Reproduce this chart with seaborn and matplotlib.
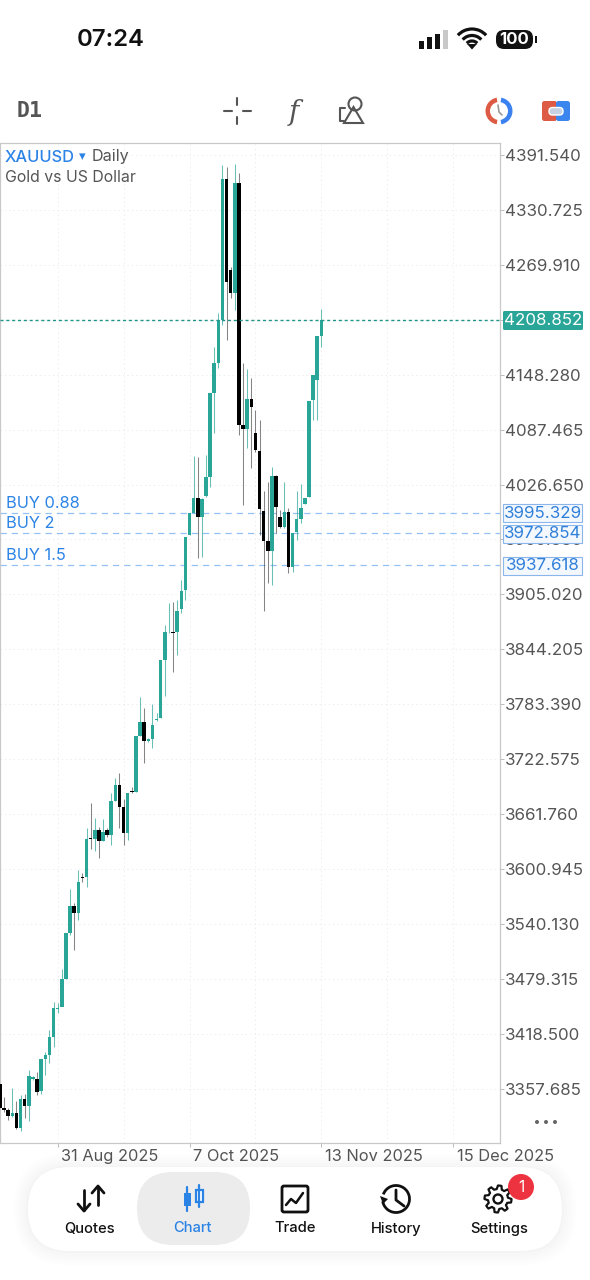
import numpy as np
import pandas as pd
import matplotlib
matplotlib.use("Agg")
import matplotlib.pyplot as plt
import matplotlib.transforms as mtrans
from matplotlib.patches import Circle, FancyBboxPatch, Polygon, Rectangle, Wedge, Arc
import seaborn as sns

# daily candles
opens = [3362.7, 3336.1, 3334.6, 3327.3, 3330.6, 3314.0, 3346.8, 3338.7, 3368.2, 3368.6,
         3355.3, 3390.7, 3395.5, 3415.1, 3446.6, 3447.9, 3479.1, 3529.9, 3560.1, 3552.7,
         3592.2, 3591.8, 3635.1, 3634.3, 3644.6, 3631.7, 3644.3, 3638.7, 3676.7, 3694.1,
         3669.4, 3641.3, 3687.8, 3686.7, 3748.0, 3763.8, 3742.8, 3744.9, 3765.5, 3768.3,
         3832.9, 3862.9, 3863.5, 3863.1, 3888.6, 3910.0, 3970.3, 3995.2, 4011.5, 3990.8,
         4014.4, 4035.4, 4128.4, 4161.6, 4208.9, 4365.0, 4264.2, 4238.4, 4360.5, 4092.6,
         4087.9, 4121.4, 4083.4, 4064.1, 3997.8, 3964.2, 3953.1, 4036.5, 3990.4, 3980.0,
         3996.6, 3935.0, 3973.8, 3988.5, 4005.2, 4012.6, 4120.3, 4142.4, 4191.1]
highs = [3362.7, 3348.3, 3336.5, 3358.3, 3344.6, 3350.9, 3352.0, 3378.5, 3371.9, 3376.1,
         3390.7, 3398.8, 3422.8, 3454.2, 3452.4, 3489.8, 3529.9, 3578.6, 3563.8, 3600.0,
         3596.3, 3646.1, 3673.8, 3657.2, 3647.9, 3656.1, 3646.1, 3685.5, 3701.8, 3706.9,
         3678.6, 3684.9, 3692.2, 3748.0, 3791.2, 3779.0, 3746.0, 3783.8, 3773.7, 3832.9,
         3871.2, 3895.2, 3897.0, 3898.9, 3921.0, 3969.0, 3995.0, 4058.3, 4057.5, 4012.0,
         4059.4, 4128.4, 4179.3, 4216.9, 4380.5, 4378.6, 4267.9, 4381.6, 4371.9, 4161.0,
         4154.3, 4144.7, 4109.2, 4098.1, 4019.6, 4029.9, 4045.8, 4037.0, 3998.5, 4029.9,
         4000.7, 3973.4, 4019.1, 4027.3, 4011.5, 4119.5, 4148.0, 4191.1, 4220.7]
lows = [3336.1, 3332.4, 3323.2, 3326.5, 3312.9, 3311.4, 3325.1, 3322.4, 3367.5, 3350.9,
        3351.6, 3373.0, 3386.0, 3404.4, 3442.0, 3470.6, 3479.1, 3528.0, 3511.4, 3544.6,
        3587.0, 3580.8, 3622.8, 3620.5, 3612.9, 3631.7, 3636.9, 3627.6, 3676.4, 3646.1,
        3627.6, 3633.2, 3684.9, 3686.7, 3748.0, 3718.1, 3742.0, 3734.8, 3765.1, 3768.3,
        3792.6, 3862.4, 3819.5, 3838.0, 3884.5, 3898.9, 3970.3, 3994.8, 3945.4, 3946.8,
        4013.3, 4024.4, 4084.0, 4155.7, 4203.3, 4186.7, 4233.1, 4220.0, 4081.6, 4004.1,
        4066.8, 4044.7, 4063.0, 3970.8, 3887.0, 3917.4, 3915.5, 3972.7, 3978.2, 3978.6,
        3929.1, 3930.2, 3965.3, 3984.1, 4005.2, 4012.6, 4098.1, 4098.1, 4179.3]
closes = [3336.1, 3334.3, 3327.6, 3330.6, 3314.0, 3346.8, 3338.7, 3371.9, 3370.4, 3354.6,
          3390.7, 3395.2, 3414.7, 3447.2, 3447.7, 3478.8, 3529.9, 3560.1, 3552.7, 3586.4,
          3591.3, 3634.7, 3634.0, 3644.6, 3631.7, 3642.0, 3638.7, 3676.7, 3694.1, 3669.4,
          3640.6, 3684.9, 3686.0, 3748.0, 3763.8, 3742.8, 3744.7, 3760.5, 3767.0, 3832.9,
          3863.6, 3863.5, 3862.8, 3887.0, 3909.2, 3969.0, 3995.0, 4011.5, 3990.4, 4010.7,
          4035.1, 4128.4, 4161.6, 4208.9, 4365.0, 4251.3, 4238.4, 4360.5, 4092.6, 4087.9,
          4121.4, 4112.9, 4064.9, 3999.3, 3964.5, 3953.1, 4036.2, 4002.2, 3979.3, 3996.6,
          3935.0, 3973.4, 3988.5, 4000.4, 4011.5, 4119.5, 4148.0, 4191.1, 4208.85]

price_ticks = [4391.540, 4330.725, 4269.910, 4209.095, 4148.280, 4087.465, 4026.650, 3965.835,
               3905.020, 3844.205, 3783.390, 3722.575, 3661.760, 3600.945, 3540.130, 3479.315,
               3418.500, 3357.685]
date_positions = [14, 46, 78, 110]
date_labels = ["31 Aug 2025", "7 Oct 2025", "13 Nov 2025", "15 Dec 2025"]
grid_positions = [30, 62, 94]
last_price = 4208.852
buy_names = ["BUY 0.88", "BUY 2", "BUY 1.5"]
buy_prices = [3995.329, 3972.854, 3937.618]
tabs = ["Quotes", "Chart", "Trade", "History", "Settings"]

TEAL = "#2aa698"
BLUE = "#2b83e6"
GRAY = "#555555"

sns.set_theme(style="white")
plt.rcParams["font.family"] = ["Inter", "DejaVu Sans"]

df = pd.DataFrame({"bar": range(len(opens)), "open": opens, "high": highs, "low": lows, "close": closes})
df["base"] = df[["open", "close"]].min(axis=1)
df["body"] = (df["close"] - df["open"]).abs()
df["up"] = df["close"] >= df["open"]

fig = plt.figure(figsize=(5.9, 12.8), dpi=100, facecolor="white")
ax = fig.add_axes([0, 1 - 1143 / 1280, 500 / 590, 1000 / 1280])

# wicks first, bodies on top
up = df[df["up"]]
down = df[~df["up"]]
ax.vlines(up["bar"], up["low"], up["high"], color=TEAL, linewidth=0.75, alpha=0.7, zorder=2)
ax.vlines(down["bar"], down["low"], down["high"], color="#222222", linewidth=0.75, alpha=0.55, zorder=2)
sns.barplot(data=up, x="bar", y="body", bottom=up["base"].values, native_scale=True, orient="x",
            errorbar=None, color=TEAL, saturation=1, width=0.86, linewidth=0, ax=ax, zorder=3)
sns.barplot(data=down, x="bar", y="body", bottom=down["base"].values, native_scale=True, orient="x",
            errorbar=None, color="black", saturation=1, width=0.86, linewidth=0, ax=ax, zorder=3)

ax.axhline(last_price, color="#1f9488", linewidth=1.0, linestyle=(0, (2.2, 2.0)), zorder=4)
for p in buy_prices:
    ax.axhline(p, color="#93c0f6", linewidth=0.9, linestyle=(0, (5, 4)), zorder=1)

ax.set_xlim(0, 500 / 4.12)
ax.set_ylim(3297.7, 4404.8)
ax.set_xlabel("")
ax.set_ylabel("")

ax.yaxis.tick_right()
ax.set_yticks(price_ticks)
ax.set_yticklabels([f"{p:.3f}" for p in price_ticks], fontsize=12.2, color=GRAY)
ax.set_xticks(date_positions)
ax.set_xticklabels(date_labels, fontsize=11.8, color=GRAY, ha="left")
ax.set_xticks(grid_positions, minor=True)
ax.tick_params(axis="y", length=3, width=0.7, color="#bbbbbb", pad=0.6, right=True)
ax.tick_params(axis="x", which="major", length=3, width=0.7, color="#bbbbbb", pad=1.5, bottom=True)
ax.tick_params(axis="x", which="minor", length=0)
shift = mtrans.ScaledTranslation(2.6 / 72, 0, fig.dpi_scale_trans)
for lab in ax.get_xticklabels():
    lab.set_transform(lab.get_transform() + shift)

ax.grid(True, which="both", color="#eeeeee", linewidth=0.7, linestyle=(0, (1.5, 3)))
ax.set_axisbelow(True)
for s in ax.spines.values():
    s.set_color("#c8c8c8")
    s.set_linewidth(0.9)

# everything around the chart is laid out in screen pixels
ui = fig.add_axes([0, 0, 1, 1], zorder=5)
ui.set_xlim(0, 590)
ui.set_ylim(1280, 0)
ui.axis("off")
ui.patch.set_alpha(0)


def line(xs, ys, color="#111111", lw=1.5, **kw):
    ui.plot(xs, ys, color=color, linewidth=lw, solid_capstyle=kw.pop("cap", "round"), **kw)


def box(x0, y0, x1, y1, r, **kw):
    ui.add_patch(FancyBboxPatch((x0 + r, y0 + r), x1 - x0 - 2 * r, y1 - y0 - 2 * r,
                                boxstyle=f"round,pad={r}", **kw))


# status bar
ui.text(111, 40.5, "07:24", fontsize=17.2, fontweight="semibold", color="#111111", ha="center", va="center")
for i, (x, h) in enumerate(zip([419, 427, 435, 443], [8, 12, 15, 19])):
    ui.add_patch(Rectangle((x, 49 - h), 4.5, h, color="#111111" if i < 3 else "#c8c8c8", linewidth=0))
for r, w in [(19, 3.2), (12.5, 3.2), (7, 3.2)]:
    ui.add_patch(Arc((472, 48), 2 * r, 2 * r, theta1=222, theta2=318, color="#111111", linewidth=w * 0.72))
ui.add_patch(Polygon([[467, 44], [477, 44], [472, 49.5]], color="#111111", linewidth=0))
box(496, 30, 533, 49, 8, facecolor="#111111", edgecolor="none")
ui.add_patch(Rectangle((534.5, 36), 2, 7, color="#111111", linewidth=0))
ui.text(514.5, 39.5, "100", fontsize=12, fontweight="bold", color="white", ha="center", va="center")

# toolbar
ui.text(30, 111, "D1", fontsize=15.5, fontweight="bold", color=GRAY, ha="center", va="center",
        family=["DejaVu Sans Mono"])
line([224, 232], [111, 111], GRAY, 1.5)
line([243, 251], [111, 111], GRAY, 1.5)
line([237, 237], [98, 105], GRAY, 1.5)
line([237, 237], [117, 124], GRAY, 1.5)
ui.text(294, 112, "f", fontsize=20, style="italic", color=GRAY, ha="center", va="center", family=["DejaVu Serif"])
ui.add_patch(Circle((355, 104), 6.5, fill=False, edgecolor=GRAY, linewidth=1.5))
ui.add_patch(Polygon([[344, 123], [363, 123], [353.5, 107]], fill=False, edgecolor=GRAY, linewidth=1.5))
line([345, 340, 340, 344], [108, 108, 121, 121], GRAY, 1.5)
ui.add_patch(Wedge((499, 111), 13.5, 100, 260, width=4.5, color="#dd5a44", linewidth=0))
ui.add_patch(Wedge((499, 111), 13.5, 280, 80, width=4.5, color="#3b82f0", linewidth=0))
line([498, 499, 502], [105, 112, 115], "#9a9a9a", 1.2)
box(542, 101, 557, 121, 2.5, facecolor="#dd5a44", edgecolor="none")
box(556, 101, 570, 121, 2.5, facecolor="#3b86ee", edgecolor="none")
box(549, 107.5, 563, 115, 3.5, facecolor="#c6d2e2", edgecolor="white", linewidth=1)

# symbol header
ui.text(5, 157, "XAUUSD", fontsize=11.8, fontweight="medium", color=BLUE, va="center")
ui.text(82, 157, "▾", fontsize=9.5, color=BLUE, ha="center", va="center")
ui.text(92, 157, "Daily", fontsize=11.6, color=GRAY, va="center")
ui.text(5, 177, "Gold vs US Dollar", fontsize=11.4, color=GRAY, va="center")

# order labels and price tags
for name, y in zip(buy_names, [503.5, 523.5, 555.5]):
    ui.text(6, y, name, fontsize=11.8, color=BLUE, va="center")
box(503, 311, 583, 330, 1.5, facecolor=TEAL, edgecolor="none")
ui.text(543, 320.5, f"{last_price:.3f}", fontsize=12.2, color="white", ha="center", va="center")
for p, y0, y1 in zip(buy_prices, [504, 524.5, 557], [522, 543, 575]):
    ui.add_patch(Rectangle((503, y0), 79, y1 - y0, facecolor="#f3f8ff", edgecolor="#8ab6ec", linewidth=0.8))
    ui.text(543, (y0 + y1) / 2, f"{p:.3f}", fontsize=12.2, color="#2f7fd9", ha="center", va="center")

for x in [537, 546, 555]:
    ui.add_patch(Circle((x, 1122), 2, color="#666666", linewidth=0))

# bottom tab bar, soft shadow then the pill
for grow, alpha in [(14, 0.006), (11, 0.007), (8, 0.008), (5, 0.009), (2, 0.01)]:
    box(28 - grow, 1168 - grow, 562 + grow, 1251 + grow, 41 + grow, facecolor="black", edgecolor="none", alpha=alpha)
box(28, 1167, 562, 1251, 42, facecolor="white", edgecolor="none")
box(137, 1172, 250, 1245, 36, facecolor="#ececec", edgecolor="none")
for name, x in zip(tabs, [90, 192.5, 295, 396, 499]):
    ui.text(x, 1228.5, name, fontsize=10.6, fontweight="medium", color=BLUE if name == "Chart" else "#111111",
            ha="center", va="center")

# quotes icon
line([84, 84], [1190, 1210], lw=2)
line([78, 84, 90], [1204, 1211, 1204], lw=2)
line([98, 98], [1187, 1205], lw=2)
line([92, 98, 104], [1193, 1186, 1193], lw=2)
# chart icon
line([187, 187], [1187, 1211], BLUE, 1.6)
line([199, 199], [1185, 1207], BLUE, 1.6)
ui.add_patch(Rectangle((183.5, 1193), 7, 13, color=BLUE, linewidth=0))
ui.add_patch(Rectangle((195.5, 1190), 7, 12, facecolor="white", edgecolor=BLUE, linewidth=1.6))
# trade icon
box(282, 1186, 308, 1212, 2, facecolor="none", edgecolor="#111111", linewidth=2)
line([286, 291, 296, 303], [1205, 1199, 1203, 1193], lw=1.8)
# history icon
ui.add_patch(Arc((396, 1199), 27, 27, theta1=0, theta2=330, angle=-160, color="#111111", linewidth=2))
ui.add_patch(Polygon([[380, 1196], [388, 1199], [383, 1204]], color="#111111", linewidth=0))
line([396, 396, 404], [1190, 1200, 1206], lw=2)
# settings icon
ang = np.linspace(0, 2 * np.pi, 48, endpoint=False)
rad = np.where(np.arange(48) % 6 < 3, 13.5, 10)
ui.add_patch(Polygon(np.c_[498 + rad * np.cos(ang), 1199 + rad * np.sin(ang)], fill=False,
                     edgecolor="#111111", linewidth=1.6, joinstyle="round"))
ui.add_patch(Circle((498, 1199), 4.5, fill=False, edgecolor="#111111", linewidth=1.7))
ui.add_patch(Circle((521, 1187), 13, color="#ee3340", linewidth=0))
ui.text(521, 1187, "1", fontsize=11, color="white", ha="center", va="center")

fig.savefig("out.png", dpi=100)
